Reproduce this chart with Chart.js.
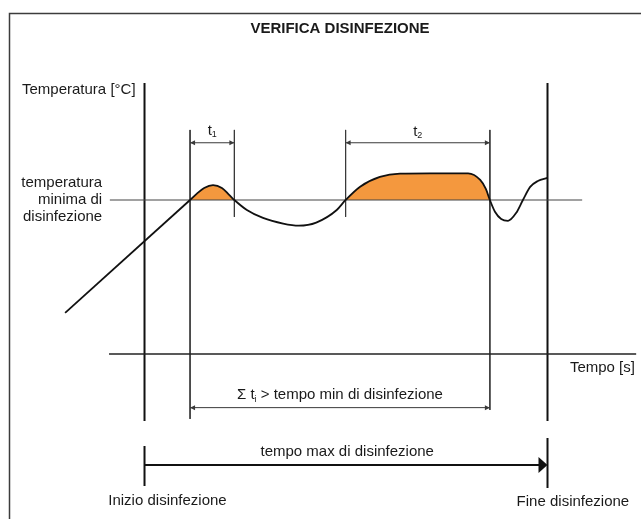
<!doctype html>
<html lang="it">
<head>
<meta charset="UTF-8" />
<title>Verifica disinfezione</title>
<script src="https://cdn.jsdelivr.net/npm/chart.js"></script>
<style>
  html, body { margin: 0; padding: 0; background: #fff; }
  #chart { display: block; }
</style>
</head>
<body>
<canvas id="chart" width="641" height="519"></canvas>
<script>
  // time: % of max disinfection time (0 = inizio, 100 = fine)
  // temperature: arbitrary units, 60 = temperatura minima di disinfezione
  const tempMin = 60;
  const rampTime = [-19.7, 11.3];
  const rampTemp = [16.0, 60];
  const curveTime = [11.3, 13.0, 14.8, 17.0, 19.2, 21.0, 22.3, 25.4, 29.4, 34.4, 38.3, 42.6, 47.7, 49.9,
                     53.5, 58.4, 63.4, 70.8, 80.3, 83.3, 84.7, 85.7, 87.0, 88.5, 90.2, 92.2, 93.9, 95.7, 97.6, 99.9];
  const curveTemp = [60, 62.5, 64.7, 65.8, 64.7, 62.0, 60, 56.1, 53.0, 50.8, 50.0, 51.2, 56.1, 60,
                     65.2, 69.0, 70.3, 70.4, 70.4, 67.8, 64.3, 60, 55.3, 52.6, 51.9, 54.9, 60, 65.1, 67.4, 68.6];
  const t1Range = [11.3, 22.3];
  const t2Range = [49.9, 85.7];
  const startTime = 0;
  const endTime = 100;

  const curve = curveTime.map((t, i) => ({ x: t, y: curveTemp[i] }));
  const ramp = rampTime.map((t, i) => ({ x: t, y: rampTemp[i] }));
  const inRange = (r) => curve.filter(p => p.x >= r[0] && p.x <= r[1]);

  function seg(x1, y1, x2, y2, color, width) {
    return {
      data: [{ x: x1, y: y1 }, { x: x2, y: y2 }],
      borderColor: color, borderWidth: width, pointRadius: 0, tension: 0, fill: false, order: 2
    };
  }

  const INK = '#111';
  const THIN = '#3a3a3a';
  const ORANGE = '#f4983e';

  const datasets = [
    { data: curve, borderColor: INK, borderWidth: 1.8, pointRadius: 0, cubicInterpolationMode: 'monotone', fill: false, order: 0 },
    { data: ramp, borderColor: INK, borderWidth: 1.8, pointRadius: 0, tension: 0, fill: false, order: 0 },
    { data: inRange(t1Range), borderWidth: 0, borderColor: 'rgba(0,0,0,0)', backgroundColor: ORANGE, pointRadius: 0,
      cubicInterpolationMode: 'monotone', fill: { value: tempMin }, order: 5 },
    { data: inRange(t2Range), borderWidth: 0, borderColor: 'rgba(0,0,0,0)', backgroundColor: ORANGE, pointRadius: 0,
      cubicInterpolationMode: 'monotone', fill: { value: tempMin }, order: 5 },
    seg(-8.6, tempMin, 108.6, tempMin, '#444', 1.2),
    seg(-8.8, 0, 122, 0, '#222', 1.6),
    seg(startTime, 105.6, startTime, -26.1, INK, 2),
    seg(endTime, 105.6, endTime, -26.1, INK, 2),
    seg(startTime, -35.8, startTime, -51.4, INK, 2),
    seg(endTime, -32.7, endTime, -52.2, INK, 2),
    seg(t1Range[0], 87.3, t1Range[0], -25.3, THIN, 1),
    seg(t1Range[1], 87.3, t1Range[1], 53.4, THIN, 1),
    seg(t2Range[0], 87.3, t2Range[0], 53.4, THIN, 1),
    seg(t2Range[1], 87.3, t2Range[1], -21.8, THIN, 1),
    seg(t1Range[0], 82.3, t1Range[1], 82.3, THIN, 1),
    seg(t2Range[0], 82.3, t2Range[1], 82.3, THIN, 1),
    seg(t1Range[0], -20.9, t2Range[1], -20.9, THIN, 1),
    seg(startTime, -43.25, endTime - 2, -43.25, INK, 2)
  ];

  const FONT = '"Liberation Sans", Arial, Helvetica, sans-serif';

  function arrowHead(ctx, x, y, dir, len, half, color) {
    ctx.save();
    ctx.fillStyle = color;
    ctx.beginPath();
    ctx.moveTo(x, y);
    ctx.lineTo(x - dir * len, y - half);
    ctx.lineTo(x - dir * len, y + half);
    ctx.closePath();
    ctx.fill();
    ctx.restore();
  }

  const decor = {
    id: 'decor',
    beforeDraw(chart) {
      const ctx = chart.ctx;
      ctx.save();
      ctx.fillStyle = '#fff';
      ctx.fillRect(0, 0, chart.width, chart.height);
      ctx.strokeStyle = '#3c3c3c';
      ctx.lineWidth = 1.5;
      ctx.strokeRect(9.5, 13.5, 800, 700);
      ctx.restore();
    },
    afterDatasetsDraw(chart) {
      const ctx = chart.ctx;
      const sx = chart.scales.x, sy = chart.scales.y;
      const px = v => sx.getPixelForValue(v);
      const py = v => sy.getPixelForValue(v);

      // arrowheads
      [t1Range, t2Range].forEach(r => {
        arrowHead(ctx, px(r[0]), py(82.3), -1, 5, 2.5, THIN);
        arrowHead(ctx, px(r[1]), py(82.3), 1, 5, 2.5, THIN);
      });
      arrowHead(ctx, px(t1Range[0]), py(-20.9), -1, 5, 2.5, THIN);
      arrowHead(ctx, px(t2Range[1]), py(-20.9), 1, 5, 2.5, THIN);
      arrowHead(ctx, px(endTime), py(-43.25), 1, 9, 8, INK);

      ctx.save();
      ctx.fillStyle = '#1a1a1a';
      ctx.textBaseline = 'middle';

      ctx.font = 'bold 15px ' + FONT;
      ctx.textAlign = 'center';
      ctx.fillText('VERIFICA DISINFEZIONE', 340, 29);

      ctx.font = '15px ' + FONT;
      ctx.textAlign = 'left';
      ctx.fillText('Temperatura [°C]', px(-30.4), py(102.9));

      ctx.textAlign = 'right';
      ctx.fillText('temperatura', px(-10.5), py(66.6));
      ctx.fillText('minima di', px(-10.5), py(60));
      ctx.fillText('disinfezione', px(-10.5), py(53.4));
      ctx.fillText('Tempo [s]', px(121.7), py(-5.45));

      ctx.textAlign = 'center';
      ctx.fillText('tempo max di disinfezione', px(50.3), py(-38.2));
      ctx.fillText('Inizio disinfezione', px(5.7), py(-57.3));
      ctx.fillText('Fine disinfezione', px(106.3), py(-57.7));

      // t with subscript
      function sub(parts, cx, cy) {
        let w = 0;
        parts.forEach(p => { ctx.font = p.size + 'px ' + FONT; p.w = ctx.measureText(p.s).width; w += p.w; });
        let x = cx - w / 2;
        ctx.textAlign = 'left';
        parts.forEach(p => {
          ctx.font = p.size + 'px ' + FONT;
          ctx.fillText(p.s, x, cy + (p.dy || 0));
          x += p.w;
        });
      }
      sub([{ s: 't', size: 15 }, { s: '1', size: 9, dy: 4 }], px((t1Range[0] + t1Range[1]) / 2), py(86.9));
      sub([{ s: 't', size: 15 }, { s: '2', size: 9, dy: 4 }], px((t2Range[0] + t2Range[1]) / 2), py(86.5));
      sub([{ s: 'Σ t', size: 15 }, { s: 'i', size: 9, dy: 4 }, { s: ' > tempo min di disinfezione', size: 15 }],
          px((t1Range[0] + t2Range[1]) / 2), py(-16.0));
      ctx.restore();
    }
  };

  new Chart(document.getElementById('chart'), {
    type: 'line',
    data: { datasets },
    options: {
      responsive: false,
      animation: false,
      layout: { padding: 0 },
      plugins: { legend: { display: false }, tooltip: { enabled: false } },
      scales: {
        x: { type: 'linear', display: false, min: -35.86, max: 123.2 },
        y: { type: 'linear', display: false, min: -64.29, max: 137.92 }
      }
    },
    plugins: [decor]
  });
</script>
</body>
</html>
